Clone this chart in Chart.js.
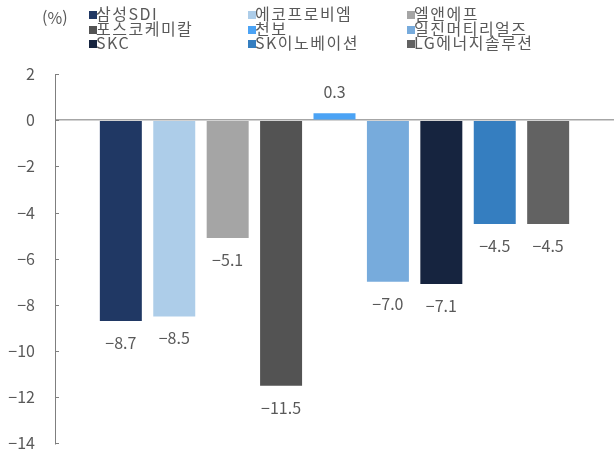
<!DOCTYPE html>
<html lang="ko">
<head>
<meta charset="UTF-8">
<title>2차전지 소재 수익률</title>
<script src="https://cdn.jsdelivr.net/npm/chart.js"></script>
<style>
  body { margin: 0; background: #fff; }
  #wrap { position: relative; width: 614px; height: 453px; }
  #unit { position: absolute; left: 42px; top: 5px; font: 16px "Noto Sans CJK KR", sans-serif; color: #595959; }
  #legend { position: absolute; left: 89px; top: 6px; display: grid; grid-template-columns: 159px 159px 159px; }
  #legend div { font: 16px/14.7px "Noto Sans CJK KR", sans-serif; letter-spacing: 1.5px; color: #595959; white-space: nowrap; }
  #legend span { display: inline-block; width: 8px; height: 8px; margin-right: -1px; vertical-align: 1px; }
</style>
</head>
<body>
<div id="wrap">
  <canvas id="myChart" width="614" height="453"></canvas>
  <div id="unit">(%)</div>
  <div id="legend"></div>
</div>
<script>
// 종목명, 수익률(%)
const names = ['삼성SDI', '에코프로비엠', '엘앤에프', '포스코케미칼', '천보', '일진머티리얼즈', 'SKC', 'SK이노베이션', 'LG에너지솔루션'];
const values = [-8.7, -8.5, -5.1, -11.5, 0.3, -7.0, -7.1, -4.5, -4.5];
const yTicks = [-14, -12, -10, -8, -6, -4, -2, 0, 2];

const colors = ['#203864', '#adcde9', '#a5a5a5', '#535353', '#4ba3f5', '#77abdc', '#16243f', '#357ec0', '#626262'];
const gray = '#595959';

function fmt(v, digits) {
    let s = Math.abs(v).toFixed(digits);
    return v < 0 ? '\u2212' + s : s;
}

// 범례는 3열로 HTML에 그림
const legendBox = document.getElementById('legend');
names.forEach((n, i) => {
    let d = document.createElement('div');
    d.innerHTML = '<span style="background:' + colors[i] + '"></span>' + n;
    legendBox.appendChild(d);
});

// 막대 값 라벨 + 축 안쪽 눈금
const labelPlugin = {
    id: 'valueLabels',
    afterDatasetsDraw(chart) {
        const ctx = chart.ctx;
        ctx.save();
        ctx.font = '16px "Noto Sans CJK KR", sans-serif';
        ctx.fillStyle = gray;
        ctx.textAlign = 'center';
        ctx.textBaseline = 'middle';
        chart.data.datasets.forEach((ds, i) => {
            const bar = chart.getDatasetMeta(i).data[0];
            const v = ds.data[0];
            const y = v < 0 ? bar.y + 22 : bar.y - 21;
            ctx.fillText(fmt(v, 1), bar.x, y);
        });
        // y축 눈금 (안쪽)
        const ys = chart.scales.y;
        const left = chart.chartArea.left;
        ctx.strokeStyle = '#7f7f7f';
        ctx.lineWidth = 1;
        yTicks.forEach(t => {
            const py = Math.round(ys.getPixelForValue(t)) + 0.5;
            ctx.beginPath();
            ctx.moveTo(left, py);
            ctx.lineTo(left + 4, py);
            ctx.stroke();
        });
        ctx.restore();
    }
};

const ctx = document.querySelector('#myChart');
const chart = new Chart(ctx, {
    type: 'bar',
    data: {
        labels: [''],
        datasets: names.map((n, i) => ({
            label: n,
            data: [values[i]],
            backgroundColor: colors[i],
            borderWidth: 0,
            categoryPercentage: 0.86,
            barPercentage: 0.786
        }))
    },
    options: {
        responsive: false,
        animation: false,
        layout: { padding: { top: 74, bottom: -6, left: 0, right: 0 } },
        plugins: {
            legend: { display: false },
            tooltip: { enabled: false }
        },
        scales: {
            x: { display: false },
            y: {
                min: -14,
                max: 2,
                afterFit(scale) { scale.width = 55; },
                afterBuildTicks(scale) { scale.ticks = yTicks.map(v => ({ value: v })); },
                ticks: {
                    padding: 0,
                    color: gray,
                    font: { family: '"Noto Sans CJK KR", sans-serif', size: 16 },
                    callback: v => fmt(v, 0)
                },
                grid: {
                    drawTicks: true,
                    tickLength: 20,
                    tickColor: 'rgba(0,0,0,0)',
                    color: c => c.tick && c.tick.value === 0 ? '#a6a6a6' : 'rgba(0,0,0,0)',
                    lineWidth: 1.5
                },
                border: { color: '#7f7f7f', width: 1 }
            }
        }
    },
    plugins: [labelPlugin]
});
</script>
</body>
</html>
